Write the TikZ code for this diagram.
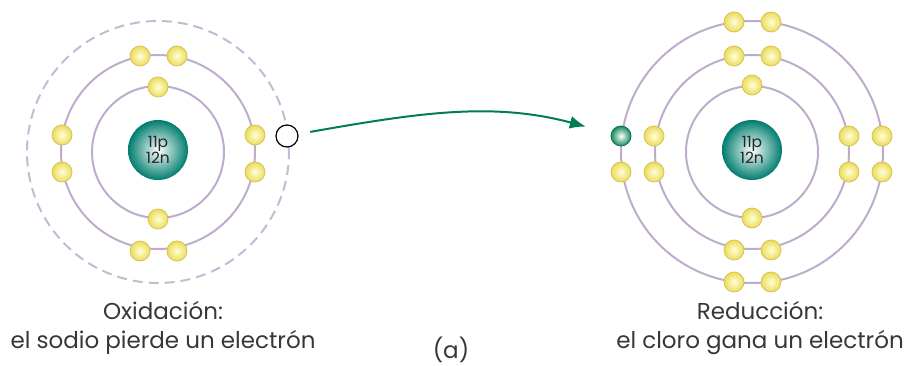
\documentclass[tikz,border=0pt]{standalone}
\usepackage{fontspec}
\setmainfont{Poppins}
\usetikzlibrary{arrows.meta}
\definecolor{orbit}{RGB}{190,172,205}
\definecolor{nucleo}{RGB}{0,125,110}
\definecolor{eyellow}{RGB}{235,220,90}
\definecolor{eedge}{RGB}{215,195,85}
\definecolor{egreen}{RGB}{20,140,95}
\definecolor{flecha}{RGB}{0,125,85}
\definecolor{texto}{RGB}{55,55,55}
\tikzset{
  orbita/.style={draw=orbit, line width=2pt},
  orbitavacia/.style={draw=orbit!85, line width=2pt, dash pattern=on 10pt off 6pt},
  nucleus/.style={circle, minimum size=60pt, inner sep=0pt, shading=radial,
    inner color=white, outer color=nucleo, align=center, text=black!85,
    font=\fontsize{15.5}{16}\selectfont},
  electron/.style={circle, minimum size=20pt, inner sep=0pt, draw=eedge, line width=0.8pt,
    shading=radial, inner color=white!85!yellow, outer color=eyellow},
  ganado/.style={electron, draw=egreen!80!black, inner color=white, outer color=egreen},
  perdido/.style={circle, minimum size=22pt, inner sep=0pt, draw=black, line width=1.2pt, fill=white},
  rotulo/.style={align=center, text=texto, font=\fontsize{23}{29}\selectfont}
}
\begin{document}
\begin{tikzpicture}[x=1pt,y=-1pt]
\useasboundingbox (0,0) rectangle (911,366);

% sodio: orbitas
\draw[orbita] (158,152) circle (66pt);
\draw[orbita] (158,152) circle (97pt);
\draw[orbitavacia] (158,152) circle (131pt);
\node[nucleus] (nNa) at (158,150) {11p\\12n};
% electrones del sodio
\node[electron] (a1) at (158,87) {};
\node[electron] (a2) at (158,219) {};
\node[electron] (b1) at (140,56) {};
\node[electron] (b2) at (177,56) {};
\node[electron] (b3) at (140,251) {};
\node[electron] (b4) at (177,251) {};
\node[electron] (b5) at (62,135) {};
\node[electron] (b6) at (62,172) {};
\node[electron] (b7) at (255,135) {};
\node[electron] (b8) at (255,172) {};
\node[perdido] (lost) at (287,136) {};

% cloro: orbitas
\draw[orbita] (752,152) circle (66pt);
\draw[orbita] (752,152) circle (97pt);
\draw[orbita] (752,152) circle (131pt);
\node[nucleus] (nCl) at (752,150) {11p\\12n};
% electrones del cloro
\node[electron] (c1) at (752,85) {};
\node[electron] (c2) at (752,218) {};
\node[electron] (d1) at (734,56) {};
\node[electron] (d2) at (771,56) {};
\node[electron] (d3) at (734,250) {};
\node[electron] (d4) at (771,250) {};
\node[electron] (d5) at (654,136) {};
\node[electron] (d6) at (654,172) {};
\node[electron] (d7) at (849,136) {};
\node[electron] (d8) at (849,172) {};
\node[electron] (f1) at (734,22) {};
\node[electron] (f2) at (771,22) {};
\node[electron] (f3) at (734,282) {};
\node[electron] (f4) at (771,282) {};
\node[ganado]   (gain) at (621,136) {};
\node[electron] (f6) at (621,172) {};
\node[electron] (f7) at (882,136) {};
\node[electron] (f8) at (882,172) {};

% transferencia del electron
\draw[flecha, line width=2pt, -{Latex[length=16pt,width=13pt]}, shorten <=12pt, shorten >=26pt]
  (lost) to[out=10, in=165] (gain);

% rotulos
\node[rotulo] (tNa) at (163,328) {Oxidación:\\el sodio pierde un electrón};
\node[rotulo] (tCl) at (760,328) {Reducción:\\el cloro gana un electrón};
\node[rotulo] (ta) at (451,350) {(a)};
\end{tikzpicture}
\end{document}
